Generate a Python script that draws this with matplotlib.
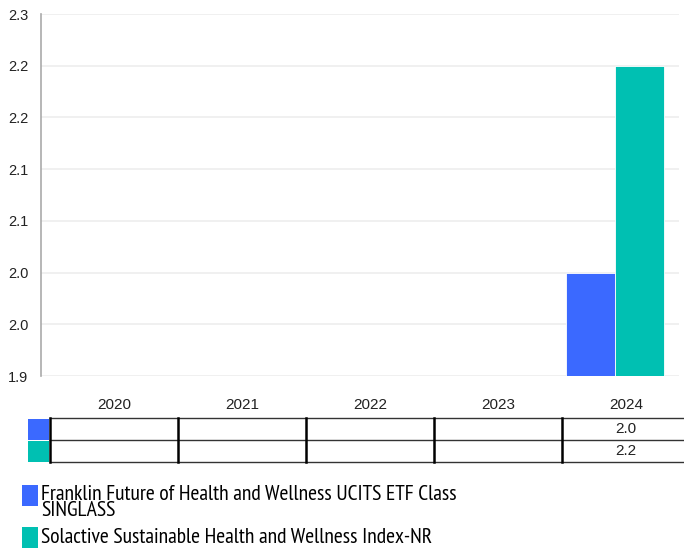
import numpy as np
import matplotlib.pyplot as plt
from matplotlib.patches import Rectangle

plt.rcParams['font.family'] = ['Liberation Sans', 'DejaVu Sans']

# data
years = ['2020', '2021', '2022', '2023', '2024']
franklin = [np.nan, np.nan, np.nan, np.nan, 2.0]
solactive = [np.nan, np.nan, np.nan, np.nan, 2.2]
series_names = ['Franklin Future of Health and Wellness UCITS ETF Class\nSINGLASS',
                'Solactive Sustainable Health and Wellness Index-NR']
colors = ['#3B69FF', '#00C0B2']
yticks = [1.9, 1.95, 2.0, 2.05, 2.1, 2.15, 2.2, 2.25]
ytick_labels = ['1.9', '2.0', '2.0', '2.1', '2.1', '2.2', '2.2', '2.3']

W, H = 684, 548
fig = plt.figure(figsize=(W / 100, H / 100), dpi=100)

# main bar chart
ax = fig.add_axes([41 / W, 1 - 376 / H, 638 / W, 362 / H])
x = np.arange(len(years))
bw = 0.385
ax.bar(x - bw / 2, franklin, width=bw, color=colors[0], edgecolor='white', linewidth=0.6)
ax.bar(x + bw / 2, solactive, width=bw, color=colors[1], edgecolor='white', linewidth=0.6)
ax.set_xlim(-0.5, len(years) - 0.5)
ax.set_ylim(1.9, 2.25)
ax.set_yticks(yticks)
ax.set_yticklabels(ytick_labels)
ax.set_xticks([])
ax.tick_params(axis='y', length=0, pad=9, labelsize=10.5, labelcolor='#222222')
ax.grid(axis='y', color='#eeeeee', linewidth=1.2)
ax.set_axisbelow(True)
for s in ['top', 'right', 'bottom']:
    ax.spines[s].set_visible(False)
ax.spines['left'].set_color('#aaaaaa')
ax.spines['left'].set_linewidth(1.2)

# overlay in pixel coordinates for table and legend
ov = fig.add_axes([0, 0, 1, 1])
ov.set_xlim(0, W)
ov.set_ylim(H, 0)
ov.axis('off')

col_left = 50
col_w = 128
row_top = [418, 440]
row_h = 22
table_right = W

for i, yr in enumerate(years):
    ov.text(col_left + col_w * (i + 0.5), 405, yr, ha='center', va='center',
            fontsize=11, color='#222222')

# horizontal lines
for yy in [418, 440, 462]:
    ov.plot([col_left, table_right], [yy, yy], color='#333333', linewidth=1.0)
# vertical lines
for i in range(len(years)):
    xx = col_left + col_w * i
    ov.plot([xx, xx], [418, 462], color='black', linewidth=1.8)

for r, (vals, c) in enumerate(zip([franklin, solactive], colors)):
    ov.add_patch(Rectangle((28, row_top[r] + 0.5), 21, row_h - 1, color=c, linewidth=0))
    for i, v in enumerate(vals):
        if not np.isnan(v):
            ov.text(col_left + col_w * (i + 0.5), row_top[r] + row_h / 2, f'{v:.1f}',
                    ha='center', va='center', fontsize=11, color='#222222')

# legend (narrow face, sized so the first line spans like the reference)
leg_font = ['PT Sans Narrow', 'Roboto Condensed', 'Liberation Sans', 'DejaVu Sans']
r = fig.canvas.get_renderer()
probe = ov.text(0, 0, series_names[0].split('\n')[0], fontsize=14.5, family=leg_font)
w = probe.get_window_extent(r).width
probe.remove()
fs = 14.5 * 416 / w

ov.add_patch(Rectangle((22, 485), 16, 21, color=colors[0], linewidth=0))
ov.text(41, 485, series_names[0], ha='left', va='top', fontsize=fs,
        linespacing=0.8, color='black', family=leg_font)
ov.add_patch(Rectangle((22, 527), 16, 21, color=colors[1], linewidth=0))
ov.text(41, 543, series_names[1], ha='left', va='baseline', fontsize=fs,
        color='black', family=leg_font)

fig.savefig('out.png', dpi=100)
